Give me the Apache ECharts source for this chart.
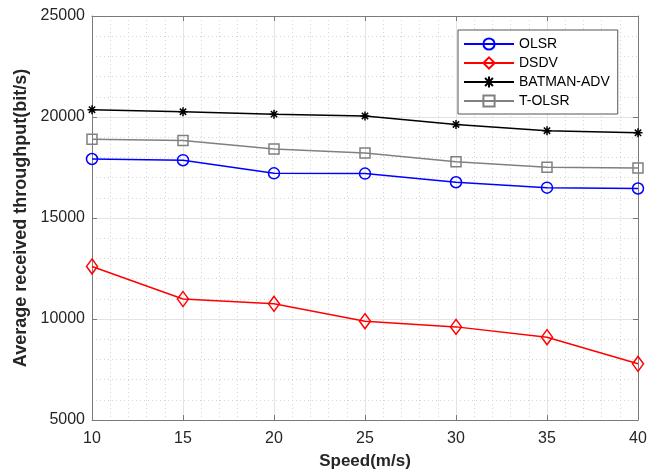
<!DOCTYPE html>
<html>
<head>
<meta charset="utf-8">
<script src="https://cdn.jsdelivr.net/npm/echarts@6/dist/echarts.min.js"></script>
<style>html,body{margin:0;padding:0;background:#fff}#c{width:656px;height:475px}</style>
</head>
<body>
<div id="c"></div>
<script>
var speeds = [10, 15, 20, 25, 30, 35, 40];
var olsr = [17920, 17860, 17210, 17200, 16770, 16500, 16460];
var dsdv = [12600, 10990, 10750, 9890, 9610, 9100, 7780];
var batman = [20360, 20260, 20140, 20050, 19630, 19320, 19220];
var tolsr = [18900, 18840, 18420, 18220, 17790, 17510, 17480];
var seriesNames = ['OLSR', 'DSDV', 'BATMAN-ADV', 'T-OLSR'];
var xTicks = [10, 15, 20, 25, 30, 35, 40];
var yTicks = [5000, 10000, 15000, 20000, 25000];

function pairs(v){ return speeds.map(function(s,i){ return [s, v[i]]; }); }
var font = 'Liberation Sans, Arial, sans-serif';
var axisCol = '#7a7a7a';
var star = 'path://M5,0L5,10M0,5L10,5M1.5,1.5L8.5,8.5M8.5,1.5L1.5,8.5';

var chart = echarts.init(document.getElementById('c'), null, {renderer:'canvas'});
function mkSeries(name, data, color, symbol, size){
  return {
    name: name, type: 'line', data: pairs(data), xAxisIndex: 0, yAxisIndex: 0,
    symbol: symbol, symbolSize: size, showAllSymbol: true,
    lineStyle: {color: color, width: 1.5},
    itemStyle: {color: symbol === star ? color : 'rgba(255,255,255,0)', borderColor: color, borderWidth: 1.5},
    emphasis: {disabled: true}, animation: false, z: 3
  };
}
var option = {
  animation: false,
  backgroundColor: '#fff',
  grid: {left: 92, right: 18, top: 16, bottom: 54, show: false},
  legend: {
    show: true, orient: 'vertical', left: 458, top: 30,
    padding: [7, 8, 6, 5], itemGap: 5, itemWidth: 50, itemHeight: 14,
    backgroundColor: '#fff', borderColor: '#555', borderWidth: 1,
    textStyle: {fontFamily: font, fontSize: 14, color: '#000', padding: [0,0,0,0]},
    data: seriesNames
  },
  xAxis: [{
    type: 'value', min: 10, max: 40, interval: 5, position: 'bottom',
    name: 'Speed(m/s)', nameLocation: 'middle', nameGap: 33,
    nameTextStyle: {fontFamily: font, fontSize: 17, fontWeight: 'bold', color: '#262626'},
    axisLine: {show: true, lineStyle: {color: axisCol, width: 1}},
    axisTick: {show: true, inside: true, length: 5, lineStyle: {color: axisCol}},
    axisLabel: {fontFamily: font, fontSize: 16, color: '#262626', margin: 11,
      formatter: function(v){ return xTicks.indexOf(v) >= 0 ? String(v) : ''; }},
    splitLine: {show: true, lineStyle: {color: '#e3e3e3', width: 1}},
    minorTick: {show: false, splitNumber: 5},
    minorSplitLine: {show: true, lineStyle: {color: '#d4d4d4', width: 1, type: [1, 3]}}
  }, {
    type: 'value', min: 10, max: 40, interval: 5, position: 'top',
    axisLine: {show: true, lineStyle: {color: axisCol, width: 1}},
    axisTick: {show: true, inside: true, length: 5, lineStyle: {color: axisCol}},
    axisLabel: {show: false}, splitLine: {show: false}
  }],
  yAxis: [{
    type: 'value', min: 5000, max: 25000, interval: 5000, position: 'left',
    name: 'Average received throughput(bit/s)', nameLocation: 'middle', nameGap: 58,
    nameTextStyle: {fontFamily: font, fontSize: 18, fontWeight: 'bold', color: '#262626'},
    axisLine: {show: true, lineStyle: {color: axisCol, width: 1}},
    axisTick: {show: true, inside: true, length: 5, lineStyle: {color: axisCol}},
    axisLabel: {fontFamily: font, fontSize: 16, color: '#262626', margin: 7,
      formatter: function(v){ return yTicks.indexOf(v) >= 0 ? String(v) : ''; }},
    splitLine: {show: true, lineStyle: {color: '#e3e3e3', width: 1}},
    minorTick: {show: false, splitNumber: 5},
    minorSplitLine: {show: true, lineStyle: {color: '#d4d4d4', width: 1, type: [1, 3]}}
  }, {
    type: 'value', min: 5000, max: 25000, interval: 5000, position: 'right',
    axisLine: {show: true, lineStyle: {color: axisCol, width: 1}},
    axisTick: {show: true, inside: true, length: 5, lineStyle: {color: axisCol}},
    axisLabel: {show: false}, splitLine: {show: false}
  }],
  series: [
    mkSeries('OLSR', olsr, '#0000ff', 'circle', 11),
    mkSeries('DSDV', dsdv, '#ff0000', 'diamond', [11, 15]),
    mkSeries('BATMAN-ADV', batman, '#000000', star, 9),
    mkSeries('T-OLSR', tolsr, '#808080', 'rect', 10)
  ]
};
chart.setOption(option);
</script>
</body>
</html>
